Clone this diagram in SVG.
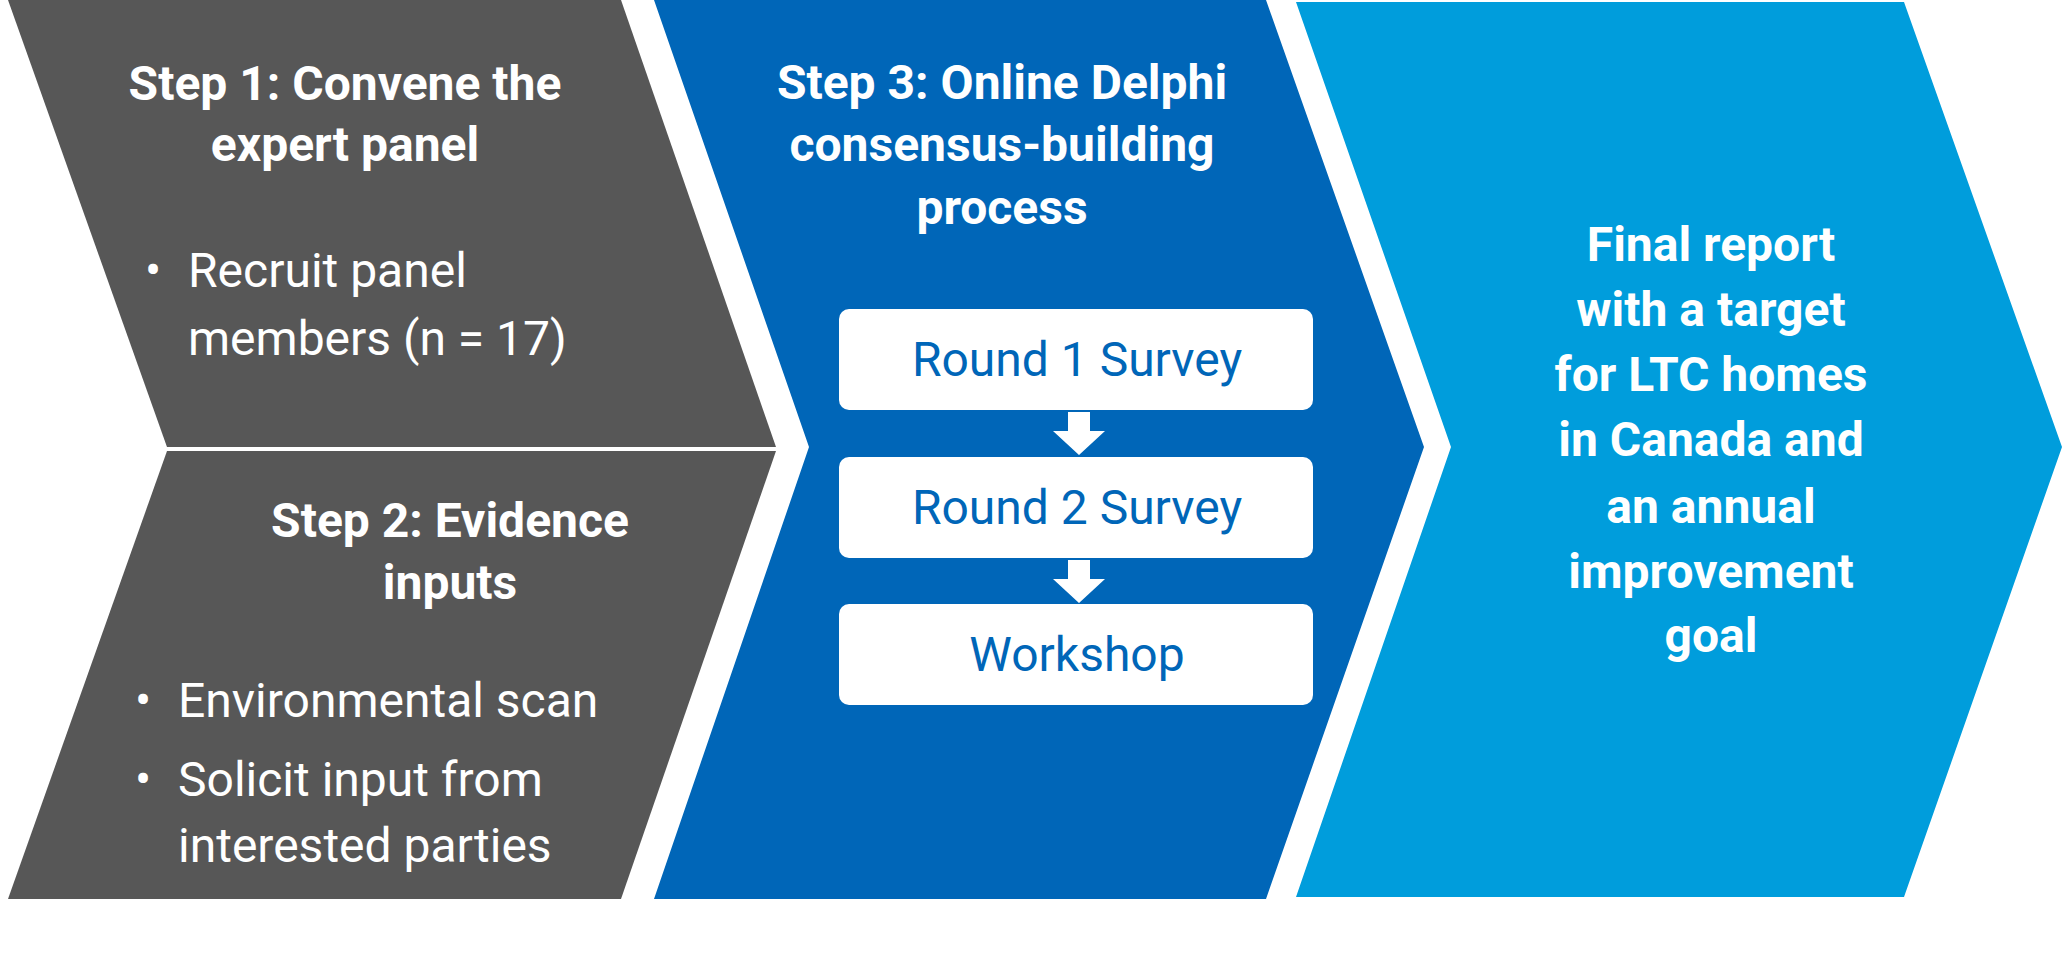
<svg xmlns="http://www.w3.org/2000/svg" width="2063" height="962" viewBox="0 0 2063 962">
<style>
.b{font-family:Roboto,"Liberation Sans",sans-serif;font-weight:bold;font-size:48px;fill:#fff;text-anchor:middle}
.r{font-family:Roboto,"Liberation Sans",sans-serif;font-size:48px;fill:#fff}
.bx{font-family:Roboto,"Liberation Sans",sans-serif;font-size:48px;fill:#0066b8;text-anchor:middle}
</style>
<rect width="2063" height="962" fill="#fff"/>
<g id="step1">
<polygon points="8,0 621,0 776,447 167,447" fill="#575757"/>
<text class="b" x="345" y="100">Step 1: Convene the</text>
<text class="b" x="345" y="161">expert panel</text>
<text class="r" x="145" y="287">•</text>
<text class="r" x="188" y="287">Recruit panel</text>
<text class="r" x="188" y="355">members (n = 17)</text>
</g>
<g id="step2">
<polygon points="167,451 776,451 621,899 8,899" fill="#575757"/>
<text class="b" x="450" y="537">Step 2: Evidence</text>
<text class="b" x="450" y="599">inputs</text>
<text class="r" x="135" y="717">•</text>
<text class="r" x="178" y="717">Environmental scan</text>
<text class="r" x="135" y="796">•</text>
<text class="r" x="178" y="796">Solicit input from</text>
<text class="r" x="178" y="862">interested parties</text>
</g>
<g id="step3">
<polygon points="654,0 1266,0 1424,447 1266,899 654,899 809,447" fill="#0066b8"/>
<text class="b" x="1002" y="99">Step 3: Online Delphi</text>
<text class="b" x="1002" y="161">consensus-building</text>
<text class="b" x="1002" y="224">process</text>
</g>
<g id="round1"><rect x="839" y="309" width="474" height="101" rx="10" fill="#fff"/><text class="bx" x="1077" y="376">Round 1 Survey</text></g>
<g id="round2"><rect x="839" y="457" width="474" height="101" rx="10" fill="#fff"/><text class="bx" x="1077" y="524">Round 2 Survey</text></g>
<g id="workshop"><rect x="839" y="604" width="474" height="101" rx="10" fill="#fff"/><text class="bx" x="1077" y="671">Workshop</text></g>
<g id="connectors" fill="#fff">
<polygon points="1068,412 1090,412 1090,431 1105,431 1079,455 1053,431 1068,431"/>
<polygon points="1068,560 1090,560 1090,579 1105,579 1079,603 1053,579 1068,579"/>
</g>
<g id="final">
<polygon points="1296,2 1904,2 2062,447 1904,897 1296,897 1451,447" fill="#009ddc"/>
<text class="b" x="1711" y="261">Final report</text>
<text class="b" x="1711" y="326">with a target</text>
<text class="b" x="1711" y="391">for LTC homes</text>
<text class="b" x="1711" y="456">in Canada and</text>
<text class="b" x="1711" y="523">an annual</text>
<text class="b" x="1711" y="588">improvement</text>
<text class="b" x="1711" y="652">goal</text>
</g>
</svg>
